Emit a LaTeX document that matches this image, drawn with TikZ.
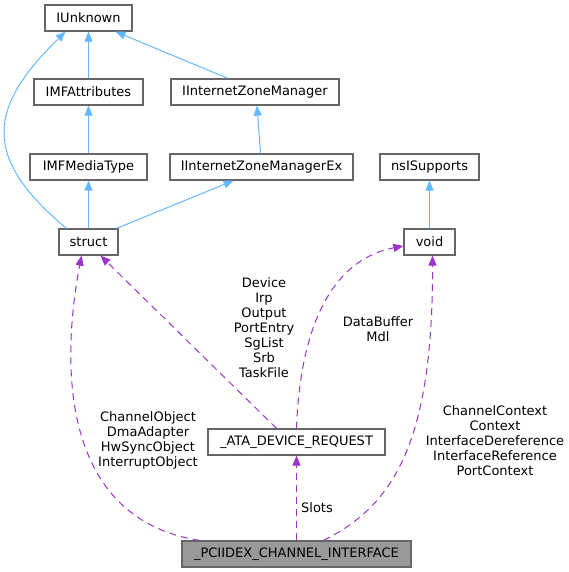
\documentclass[tikz,border=0pt]{standalone}
\usepackage{fontspec}
\setmainfont{DejaVu Sans}
\usetikzlibrary{arrows.meta}
\definecolor{inhblue}{HTML}{63B8FF}
\definecolor{usepurple}{HTML}{9A32CD}
\definecolor{boxgray}{HTML}{666666}
\definecolor{mainfill}{HTML}{999999}
\begin{document}
\begin{tikzpicture}[x=1pt,y=-1pt,
  cls/.style={draw=boxgray,line width=1.2pt,fill=white,minimum height=26pt,inner sep=0pt,
    font=\fontsize{13}{15}\selectfont},
  lbl/.style={align=center,inner sep=0pt,font=\fontsize{13}{15}\selectfont},
  inh/.style={draw=inhblue,line width=1pt,-{Triangle[length=10pt,width=8pt]},fill=none},
  use/.style={draw=usepurple,line width=1pt,dash pattern=on 7pt off 5pt,
    -{Triangle[length=10pt,width=8pt,fill=usepurple]}}]
\useasboundingbox (0,0) rectangle (569,572);
% nodes
\node[cls,minimum width=87pt] (IUnknown) at (88.5,18) {IUnknown};
\node[cls,minimum width=109pt] (IMFAttributes) at (88.5,92) {IMFAttributes};
\node[cls,minimum width=168pt] (IIZM) at (255,92) {IInternetZoneManager};
\node[cls,minimum width=117pt] (IMFMediaType) at (88.5,167) {IMFMediaType};
\node[cls,minimum width=183pt] (IIZMEx) at (261.5,167) {IInternetZoneManagerEx};
\node[cls,minimum width=99pt] (nsISupports) at (429.5,167) {nsISupports};
\node[cls,minimum width=59pt] (struct) at (88.5,242) {struct};
\node[cls,minimum width=51pt] (void) at (429.5,242) {void};
\node[cls,minimum width=177pt] (ATA) at (296.5,442) {\_ATA\_DEVICE\_REQUEST};
\node[cls,minimum width=229pt,fill=mainfill] (PCI) at (296.5,554) {\_PCIIDEX\_CHANNEL\_INTERFACE};
% inheritance edges
\draw[inh] (IMFAttributes.north) -- (IUnknown.south);
\draw[inh] ([xshift=-27pt]IIZM.north) -- ([xshift=27pt]IUnknown.south);
\draw[inh] (IMFMediaType.north) -- (IMFAttributes.south);
\draw[inh] ([xshift=-1pt]IIZMEx.north) -- ([xshift=2pt]IIZM.south);
\draw[inh] (struct.north) -- (IMFMediaType.south);
\draw[inh] ([xshift=28pt]struct.north) -- ([xshift=-28pt]IIZMEx.south);
\draw[inh] ([xshift=-22pt]struct.north) .. controls (-22,155) and (-9,105) .. ([xshift=-23pt]IUnknown.south);
\draw[inh] (void.north) -- (nsISupports.south);
% usage edges
\draw[use] ([xshift=-97pt]PCI.north) .. controls (68,520) and (58,380) .. ([xshift=-7pt]struct.south);
\draw[use] ([xshift=27pt]PCI.north) .. controls (395,505) and (433,440) .. ([xshift=3pt]void.south);
\draw[use] ([xshift=-20pt]ATA.north) -- ([xshift=12pt]struct.south);
\draw[use] (ATA.north) .. controls (300,330) and (330,260) .. ([yshift=-4pt]void.west);
\draw[use] (PCI.north) -- (ATA.south);
% labels
\node[lbl] (lChan) at (148,440) {ChannelObject\\DmaAdapter\\HwSyncObject\\InterruptObject};
\node[lbl] (lDev) at (264,328) {Device\\Irp\\Output\\PortEntry\\SgList\\Srb\\TaskFile};
\node[lbl] (lData) at (378,329) {DataBuffer\\Mdl};
\node[lbl] (lCtx) at (495,441) {ChannelContext\\Context\\InterfaceDereference\\InterfaceReference\\PortContext};
\node[lbl] (lSlots) at (317,508) {Slots};
\end{tikzpicture}
\end{document}
